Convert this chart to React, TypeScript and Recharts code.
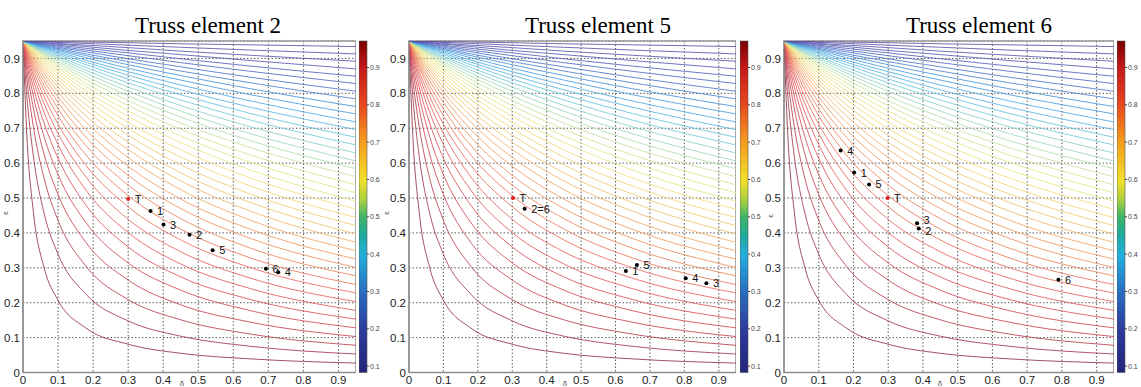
import React from "react";
import {
  ComposedChart,
  Line,
  Scatter,
  XAxis,
  YAxis,
  CartesianGrid,
  ReferenceArea,
  LabelList,
} from "recharts";

const deltaGrid = [0, 0.01, 0.03, 0.06, 0.1, 0.18, 0.3, 0.45, 0.65, 0.95];

// epsilon of each contour line at deltaGrid, from the bottom (red) to the top (blue)
const contourEps = [
  [0.95, 0.699, 0.457, 0.301, 0.207, 0.127, 0.081, 0.055, 0.039, 0.027],
  [0.95, 0.805, 0.617, 0.457, 0.339, 0.224, 0.148, 0.104, 0.075, 0.053],
  [0.95, 0.85, 0.702, 0.557, 0.436, 0.304, 0.209, 0.151, 0.11, 0.078],
  [0.95, 0.874, 0.755, 0.626, 0.51, 0.372, 0.265, 0.194, 0.144, 0.103],
  [0.95, 0.89, 0.79, 0.676, 0.567, 0.429, 0.314, 0.236, 0.177, 0.128],
  [0.95, 0.901, 0.816, 0.715, 0.614, 0.479, 0.36, 0.274, 0.209, 0.153],
  [0.95, 0.909, 0.836, 0.746, 0.653, 0.522, 0.401, 0.311, 0.24, 0.178],
  [0.95, 0.915, 0.851, 0.771, 0.685, 0.56, 0.439, 0.346, 0.27, 0.203],
  [0.95, 0.919, 0.863, 0.791, 0.712, 0.593, 0.475, 0.38, 0.3, 0.228],
  [0.95, 0.923, 0.874, 0.809, 0.736, 0.623, 0.507, 0.411, 0.328, 0.252],
  [0.95, 0.926, 0.882, 0.823, 0.756, 0.65, 0.537, 0.441, 0.356, 0.277],
  [0.95, 0.929, 0.889, 0.836, 0.774, 0.674, 0.565, 0.47, 0.384, 0.301],
  [0.95, 0.931, 0.896, 0.847, 0.79, 0.696, 0.591, 0.497, 0.41, 0.325],
  [0.95, 0.933, 0.901, 0.857, 0.804, 0.717, 0.616, 0.524, 0.436, 0.349],
  [0.95, 0.935, 0.906, 0.866, 0.817, 0.735, 0.639, 0.549, 0.462, 0.373],
  [0.95, 0.936, 0.91, 0.873, 0.829, 0.752, 0.66, 0.572, 0.487, 0.397],
  [0.95, 0.938, 0.914, 0.88, 0.839, 0.767, 0.68, 0.595, 0.511, 0.421],
  [0.95, 0.939, 0.917, 0.886, 0.848, 0.782, 0.699, 0.617, 0.534, 0.444],
  [0.95, 0.94, 0.92, 0.892, 0.857, 0.795, 0.717, 0.638, 0.557, 0.468],
  [0.95, 0.941, 0.923, 0.897, 0.865, 0.807, 0.734, 0.659, 0.58, 0.491],
  [0.95, 0.942, 0.925, 0.902, 0.872, 0.819, 0.75, 0.678, 0.602, 0.515],
  [0.95, 0.942, 0.928, 0.906, 0.879, 0.829, 0.765, 0.697, 0.623, 0.538],
  [0.95, 0.943, 0.93, 0.91, 0.885, 0.84, 0.779, 0.715, 0.644, 0.561],
  [0.95, 0.944, 0.932, 0.914, 0.891, 0.849, 0.793, 0.732, 0.664, 0.584],
  [0.95, 0.944, 0.933, 0.917, 0.897, 0.858, 0.806, 0.749, 0.684, 0.606],
  [0.95, 0.945, 0.935, 0.92, 0.902, 0.866, 0.818, 0.765, 0.704, 0.629],
  [0.95, 0.945, 0.936, 0.923, 0.906, 0.874, 0.83, 0.781, 0.723, 0.652],
  [0.95, 0.946, 0.938, 0.926, 0.911, 0.882, 0.841, 0.796, 0.742, 0.674],
  [0.95, 0.946, 0.939, 0.929, 0.915, 0.889, 0.852, 0.81, 0.76, 0.696],
  [0.95, 0.947, 0.94, 0.931, 0.919, 0.895, 0.862, 0.824, 0.778, 0.718],
  [0.95, 0.947, 0.942, 0.933, 0.923, 0.902, 0.872, 0.838, 0.796, 0.741],
  [0.95, 0.948, 0.943, 0.935, 0.926, 0.908, 0.882, 0.851, 0.813, 0.762],
  [0.95, 0.948, 0.944, 0.937, 0.929, 0.913, 0.891, 0.864, 0.83, 0.784],
  [0.95, 0.948, 0.945, 0.939, 0.932, 0.919, 0.899, 0.876, 0.846, 0.806],
  [0.95, 0.949, 0.946, 0.941, 0.935, 0.924, 0.908, 0.888, 0.863, 0.828],
  [0.95, 0.949, 0.946, 0.943, 0.938, 0.929, 0.916, 0.899, 0.878, 0.849],
  [0.95, 0.949, 0.947, 0.945, 0.941, 0.934, 0.923, 0.911, 0.894, 0.87],
  [0.95, 0.949, 0.948, 0.946, 0.943, 0.938, 0.931, 0.921, 0.909, 0.892],
  [0.95, 0.95, 0.949, 0.948, 0.946, 0.943, 0.938, 0.932, 0.924, 0.913],
  [0.95, 0.95, 0.95, 0.949, 0.948, 0.947, 0.945, 0.942, 0.939, 0.934],
];

const lineColors = [
  "#8e3446", "#a23a4a", "#b83e4e", "#c84450", "#d44a54", "#dc5258", "#e25a5a", "#e6625a",
  "#ea6c5a", "#ec765a", "#ee825c", "#f08e5e", "#f29a60", "#f2a864", "#f2b468", "#f2c26c",
  "#f0cc70", "#f0d674", "#eede7a", "#eae480", "#e2e688", "#d4e492", "#c4e29e", "#b0dcac",
  "#9cd6bc", "#88d0ca", "#76cad6", "#66c2de", "#5ab6e2", "#50aae2", "#4a9cde", "#4890d8",
  "#4a82d0", "#4e76ca", "#526ac2", "#5662bc", "#5a5cb4", "#5c58ae", "#5e54a8", "#6050a2",
];

const axisTicks = [0, 0.1, 0.2, 0.3, 0.4, 0.5, 0.6, 0.7, 0.8, 0.9];
const colorTicks = [0.1, 0.2, 0.3, 0.4, 0.5, 0.6, 0.7, 0.8, 0.9];

const pointsEl2 = [
  { d: 0.3, e: 0.497, name: "T" },
  { d: 0.364, e: 0.463, name: "1" },
  { d: 0.401, e: 0.424, name: "3" },
  { d: 0.475, e: 0.395, name: "2" },
  { d: 0.541, e: 0.35, name: "5" },
  { d: 0.693, e: 0.297, name: "6" },
  { d: 0.728, e: 0.287, name: "4" },
];

const pointsEl5 = [
  { d: 0.302, e: 0.5, name: "T" },
  { d: 0.336, e: 0.469, name: "2=6" },
  { d: 0.63, e: 0.291, name: "1" },
  { d: 0.662, e: 0.308, name: "5" },
  { d: 0.804, e: 0.27, name: "4" },
  { d: 0.864, e: 0.256, name: "3" },
];

const pointsEl6 = [
  { d: 0.163, e: 0.636, name: "4" },
  { d: 0.202, e: 0.573, name: "1" },
  { d: 0.245, e: 0.539, name: "5" },
  { d: 0.298, e: 0.5, name: "T" },
  { d: 0.383, e: 0.428, name: "3" },
  { d: 0.388, e: 0.413, name: "2" },
  { d: 0.79, e: 0.266, name: "6" },
];

const curves = contourEps.map((row) => row.map((e, j) => ({ d: deltaGrid[j], e })));

const SANS = "Arial, 'Liberation Sans', sans-serif";
const SERIF = "'Times New Roman', 'Liberation Serif', serif";
const H = 387;
const TOP = 41;
const XAX_H = 14.5;
const YAX_W = 23;

function fmt(v: number) {
  return v === 0 ? "0" : v.toFixed(1);
}

type Pt = { d: number; e: number; name: string };

function Panel({ left, plotW, points, nudge }: { left: number; plotW: number; points: Pt[]; nudge?: Record<string, number> }) {
  const renderLabel = (p: any) => {
    const dy = (nudge && nudge[p.value]) || 0;
    return (
      <text
        x={p.x + p.width + 2}
        y={p.y + p.height / 2 + dy}
        dominantBaseline="central"
        fontSize={11}
        fill="#111"
        fontFamily={SANS}
      >
        {p.value}
      </text>
    );
  };
  return (
    <div style={{ position: "absolute", left, top: 0 }}>
      <ComposedChart width={YAX_W + plotW} height={H} margin={{ top: TOP, right: 0, bottom: 0, left: 0 }}>
        <CartesianGrid stroke="#4a4a4a" strokeDasharray="1.5 2" strokeWidth={0.9} />
        <XAxis
          type="number"
          dataKey="d"
          domain={[0, 0.95]}
          ticks={axisTicks}
          interval={0}
          allowDataOverflow
          height={XAX_H}
          tickSize={0}
          tickMargin={3}
          tickFormatter={fmt}
          axisLine={{ stroke: "#888" }}
          tick={{ fontSize: 11.5, fill: "#222", fontFamily: SANS }}
        />
        <YAxis
          type="number"
          dataKey="e"
          domain={[0, 0.95]}
          ticks={axisTicks}
          interval={0}
          allowDataOverflow
          width={YAX_W}
          tickSize={0}
          tickMargin={3}
          tickFormatter={fmt}
          axisLine={{ stroke: "#888" }}
          tick={{ fontSize: 11.5, fill: "#222", fontFamily: SANS }}
        />
        {curves.map((c, i) => (
          <Line
            key={i}
            data={c}
            dataKey="e"
            type="monotone"
            stroke={lineColors[i]}
            strokeWidth={1}
            strokeOpacity={0.85}
            dot={false}
            activeDot={false}
            isAnimationActive={false}
          />
        ))}
        <Scatter
          data={points}
          dataKey="e"
          isAnimationActive={false}
          shape={(p: any) => (
            <circle cx={p.cx} cy={p.cy} r={2} fill={p.payload && p.payload.name === "T" ? "#e02020" : "#000"} />
          )}
        >
          <LabelList dataKey="name" content={renderLabel} />
        </Scatter>
        <ReferenceArea
          x1={0}
          x2={0.95}
          y1={0}
          y2={0.95}
          fill="none"
          stroke="#9a9a9a"
          strokeWidth={1.5}
          ifOverflow="visible"
        />
      </ComposedChart>
    </div>
  );
}

const cbDummy = [
  { x: 0, y: 0.5 },
  { x: 1, y: 0.5 },
];

function ColorBar({ left }: { left: number }) {
  return (
    <div style={{ position: "absolute", left, top: 0 }}>
      <ComposedChart width={30} height={H} margin={{ top: TOP, right: 0, bottom: XAX_H, left: 0 }} data={cbDummy}>
        <XAxis type="number" dataKey="x" domain={[0, 1]} hide />
        <YAxis
          type="number"
          dataKey="y"
          orientation="right"
          domain={[0.083, 0.971]}
          ticks={colorTicks}
          interval={0}
          width={22}
          tickSize={2}
          tickMargin={1}
          tickLine={{ stroke: "#444" }}
          axisLine={false}
          tick={{ fontSize: 7, fill: "#444", fontFamily: SANS }}
        />
        <Line dataKey="y" stroke="none" dot={false} activeDot={false} isAnimationActive={false} />
        <ReferenceArea
          x1={0}
          x2={1}
          y1={0.083}
          y2={0.971}
          fill="url(#cbgrad)"
          fillOpacity={1}
          stroke="#555"
          strokeWidth={0.6}
          ifOverflow="visible"
        />
      </ComposedChart>
    </div>
  );
}

const titles = [
  { x: 208, text: "Truss element 2" },
  { x: 598, text: "Truss element 5" },
  { x: 979, text: "Truss element 6" },
];

export default function App() {
  return (
    <div style={{ position: "relative", width: 1141, height: H, background: "#fff", overflow: "hidden" }}>
      <style>{"body{margin:0;background:#fff}"}</style>
      <svg width={1141} height={H} style={{ position: "absolute", left: 0, top: 0, pointerEvents: "none" }}>
        <defs>
          <linearGradient id="cbgrad" x1="0" y1="0" x2="0" y2="1">
            <stop offset="0%" stopColor="#7a0000" />
            <stop offset="8%" stopColor="#c41818" />
            <stop offset="19%" stopColor="#e6461e" />
            <stop offset="30%" stopColor="#f39a1e" />
            <stop offset="42%" stopColor="#f2e02a" />
            <stop offset="48%" stopColor="#a8d040" />
            <stop offset="53%" stopColor="#40b468" />
            <stop offset="59%" stopColor="#1fa9a0" />
            <stop offset="64.5%" stopColor="#22b0dc" />
            <stop offset="76%" stopColor="#2a6cc0" />
            <stop offset="87%" stopColor="#2c3c9c" />
            <stop offset="100%" stopColor="#25257a" />
          </linearGradient>
        </defs>
        {titles.map((t) => (
          <text key={t.text} x={t.x} y={33} textAnchor="middle" fontSize={23} fontFamily={SERIF} fill="#000">
            {t.text}
          </text>
        ))}
      </svg>
      <Panel left={0} plotW={333} points={pointsEl2} />
      <Panel left={386} plotW={327} points={pointsEl5} />
      <Panel left={761} plotW={330} points={pointsEl6} nudge={{ "3": -3, "2": 3 }} />
      <ColorBar left={359} />
      <ColorBar left={740} />
      <ColorBar left={1117} />
      <svg width={1141} height={H} style={{ position: "absolute", left: 0, top: 0, pointerEvents: "none" }}>
        {[182, 565, 940].map((x) => (
          <text key={x} x={x} y={386} fontSize={8} fill="#555" fontFamily={SANS} textAnchor="middle">
            δ
          </text>
        ))}
        {[
          [8, 213],
          [389, 213],
          [773, 216],
        ].map(([x, y]) => (
          <text key={x} x={x} y={y} fontSize={8} fill="#555" fontFamily={SANS} textAnchor="middle" transform={`rotate(-90 ${x} ${y})`}>
            ε
          </text>
        ))}
      </svg>
    </div>
  );
}
